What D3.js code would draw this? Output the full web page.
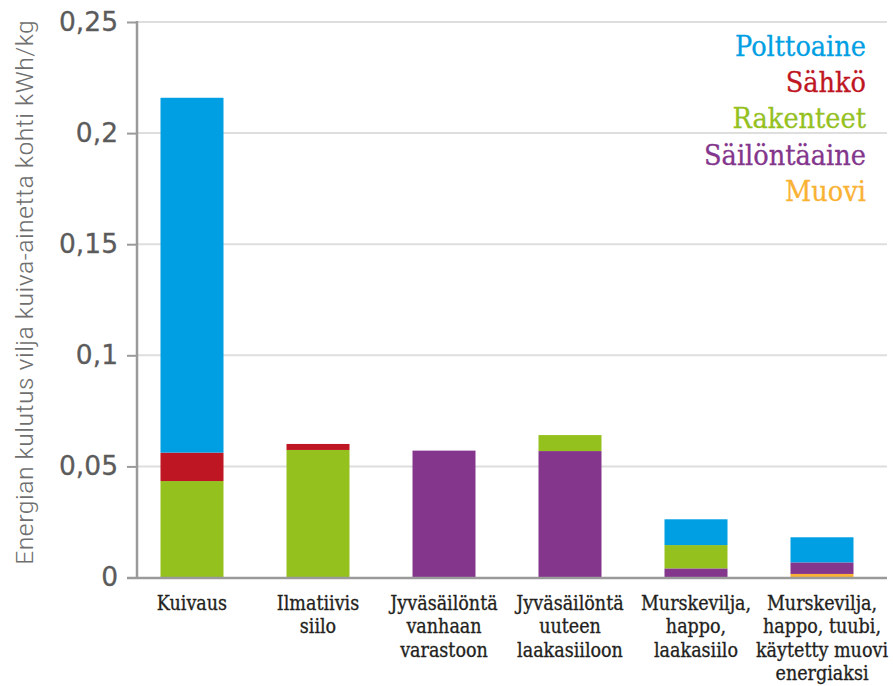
<!DOCTYPE html>
<html>
<head>
<meta charset="utf-8">
<script src="https://cdn.jsdelivr.net/npm/d3@7"></script>
<style>
  html, body { margin: 0; padding: 0; background: #fff; }
  svg { display: block; }
</style>
</head>
<body>
<svg id="chart" width="893" height="686"></svg>
<script>
// ---- data ----
const categories = [
  ["Kuivaus"],
  ["Ilmatiivis", "siilo"],
  ["Jyväsäilöntä", "vanhaan", "varastoon"],
  ["Jyväsäilöntä", "uuteen", "laakasiiloon"],
  ["Murskevilja,", "happo,", "laakasiilo"],
  ["Murskevilja,", "happo, tuubi,", "käytetty muovi", "energiaksi"]
];
const seriesNames = ["Muovi", "Säilöntäaine", "Rakenteet", "Sähkö", "Polttoaine"];
const muovi        = [0,      0,      0,      0,      0,      0.0016];
const sailontaaine = [0,      0,      0.0571, 0.0569, 0.0041, 0.0052];
const rakenteet    = [0.0434, 0.0574, 0,      0.0072, 0.0105, 0];
const sahko        = [0.0128, 0.0027, 0,      0,      0,      0];
const polttoaine   = [0.1597, 0,      0,      0,      0.0116, 0.0113];
const tickValues = [0, 0.05, 0.1, 0.15, 0.2, 0.25];
const tickLabels = ["0", "0,05", "0,1", "0,15", "0,2", "0,25"];
const yTitle = "Energian kulutus vilja kuiva-ainetta kohti kWh/kg";
const legendOrder = ["Polttoaine", "Sähkö", "Rakenteet", "Säilöntäaine", "Muovi"];

const colors = {
  "Polttoaine": "#009fe3",
  "Sähkö": "#be1622",
  "Rakenteet": "#95c11f",
  "Säilöntäaine": "#83368c",
  "Muovi": "#f9b233"
};

const seriesValues = {
  "Muovi": muovi,
  "Säilöntäaine": sailontaaine,
  "Rakenteet": rakenteet,
  "Sähkö": sahko,
  "Polttoaine": polttoaine
};

const table = categories.map((c, i) => {
  const row = { key: i };
  seriesNames.forEach(s => row[s] = seriesValues[s][i]);
  return row;
});

// ---- layout ----
const svg = d3.select("#chart");
const axisX = 137, plotRight = 887, plotTop = 22, plotBottom = 577.5;
const serifFont = "'DejaVu Serif Condensed', 'Noto Serif', serif";

const x = d3.scaleBand()
  .domain(d3.range(categories.length))
  .range([129, 885])
  .paddingInner(0.5)
  .paddingOuter(0.25);

const y = d3.scaleLinear().domain([0, 0.25]).range([plotBottom, plotTop]);

// gridlines
svg.append("g").selectAll("line")
  .data(tickValues.filter(v => v > 0))
  .join("line")
  .attr("x1", axisX).attr("x2", plotRight)
  .attr("y1", d => y(d)).attr("y2", d => y(d))
  .attr("stroke", "#dedede").attr("stroke-width", 2);

// y axis
const yAxis = d3.axisLeft(y)
  .tickValues(tickValues)
  .tickFormat((d, i) => tickLabels[i])
  .tickSize(10)
  .tickPadding(9);

const gy = svg.append("g").attr("transform", `translate(${axisX},0)`).call(yAxis);
gy.select(".domain").remove();
gy.selectAll(".tick line").attr("stroke", "#9a9a9a").attr("stroke-width", 2);
gy.selectAll(".tick text")
  .attr("fill", "#5b5b5b")
  .attr("stroke", "#5b5b5b")
  .attr("stroke-width", 0.3)
  .style("font-family", "'DejaVu Sans', 'Liberation Sans', sans-serif")
  .style("font-size", "26.5px");

// stacked bars
const stack = d3.stack().keys(seriesNames);
const stacked = stack(table);

svg.append("g").selectAll("g")
  .data(stacked)
  .join("g")
  .attr("fill", d => colors[d.key])
  .selectAll("rect")
  .data(d => d)
  .join("rect")
  .attr("x", (d, i) => x(i))
  .attr("width", x.bandwidth())
  .attr("y", d => y(d[1]))
  .attr("height", d => Math.max(0, y(d[0]) - y(d[1])));

// axis lines
svg.append("line")
  .attr("x1", axisX).attr("x2", axisX)
  .attr("y1", plotTop - 1).attr("y2", plotBottom + 1)
  .attr("stroke", "#9a9a9a").attr("stroke-width", 2.5);
svg.append("line")
  .attr("x1", 127).attr("x2", plotRight)
  .attr("y1", plotBottom + 0.5).attr("y2", plotBottom + 0.5)
  .attr("stroke", "#9a9a9a").attr("stroke-width", 2.5);

// category labels
const catG = svg.append("g")
  .style("font-family", serifFont)
  .style("font-size", "19.5px")
  .attr("fill", "#231f20")
  .attr("stroke", "#231f20")
  .attr("stroke-width", 0.3);
categories.forEach((lines, i) => {
  const t = catG.append("text")
    .attr("text-anchor", "middle")
    .attr("x", x(i) + x.bandwidth() / 2)
    .attr("y", 610);
  lines.forEach((ln, j) => {
    t.append("tspan")
      .attr("x", x(i) + x.bandwidth() / 2)
      .attr("y", 610 + j * 23.4)
      .text(ln);
  });
});

// legend
const legend = svg.append("g")
  .style("font-family", serifFont)
  .style("font-size", "28.5px");
legend.selectAll("text")
  .data(legendOrder)
  .join("text")
  .attr("x", 866)
  .attr("y", (d, i) => 56 + i * 36.2)
  .attr("text-anchor", "end")
  .attr("fill", d => colors[d])
  .attr("stroke", d => colors[d])
  .attr("stroke-width", 0.3)
  .text(d => d);

// y title
svg.append("text")
  .attr("transform", `translate(33,${(20 + 565) / 2}) rotate(-90)`)
  .attr("text-anchor", "middle")
  .attr("fill", "#6f6f6f")
  .style("font-family", "'Roboto Condensed', 'Roboto', sans-serif")
  .style("font-weight", "300")
  .style("font-size", "23px")
  .attr("textLength", 545)
  .attr("lengthAdjust", "spacingAndGlyphs")
  .text(yTitle);
</script>
</body>
</html>
